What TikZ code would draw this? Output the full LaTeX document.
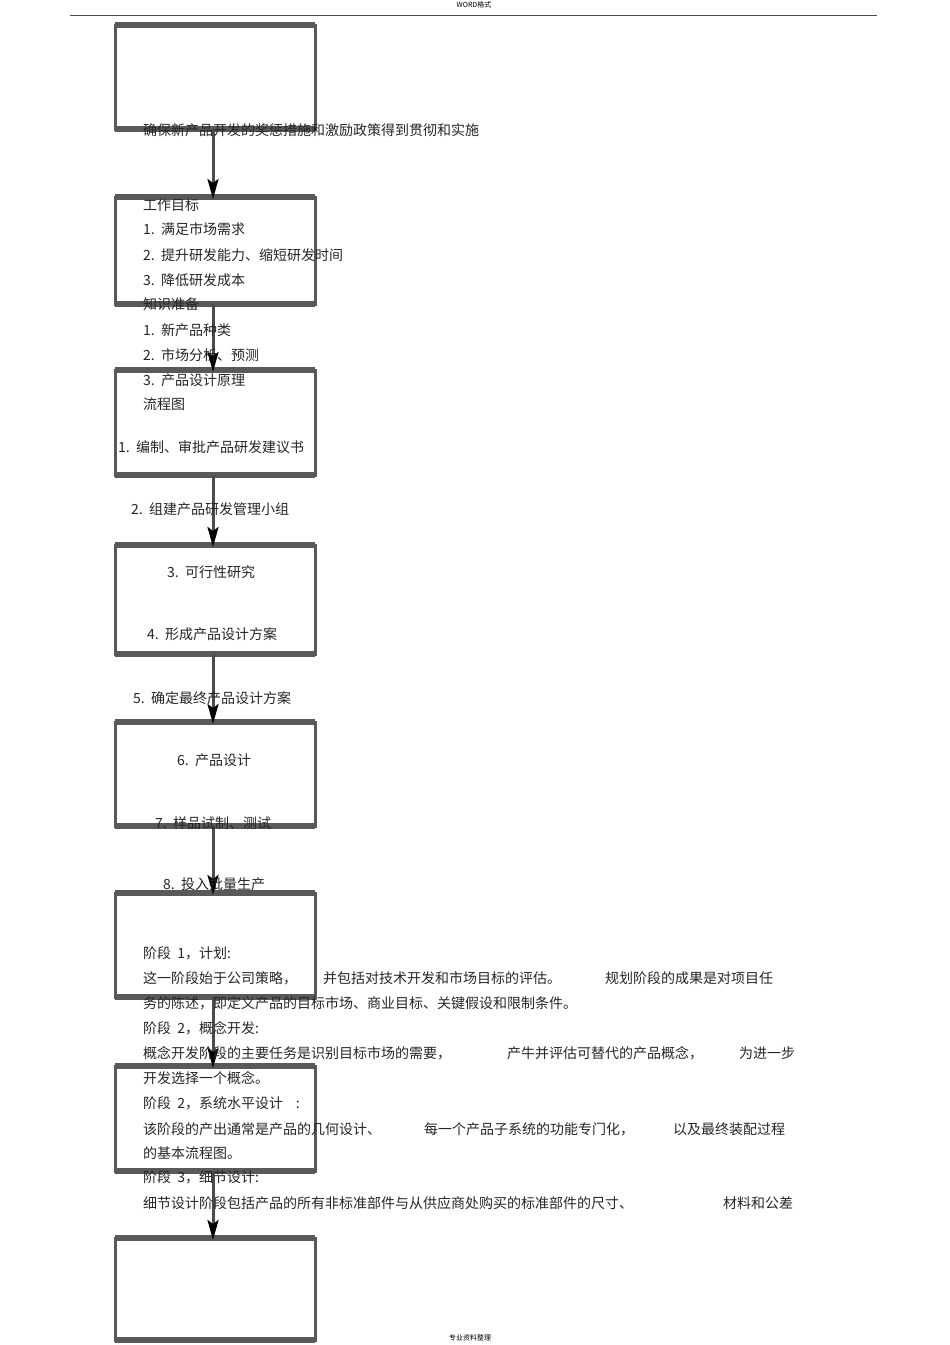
\documentclass[tikz,border=0pt]{standalone}
\usepackage{fontspec}
\setmainfont{Noto Sans CJK SC}
\usetikzlibrary{arrows.meta}
\begin{document}
\begin{tikzpicture}[x=1pt,y=-1pt,
  txt/.style={anchor=west,inner sep=0pt,font=\fontsize{14}{15}\selectfont,text=black!85},
  boxside/.style={draw=black!65,line width=3pt},
  boxedge/.style={draw=black!65,line width=6pt},
  flow/.style={draw=black!70,line width=3pt,-{Stealth[length=20pt,width=11pt,inset=4pt,color=black]}}]
\useasboundingbox (0,0) rectangle (950,1345);
\fill[white] (0,0) rectangle (950,1345);
\node[inner sep=0pt,font=\fontsize{7}{8}\selectfont] (hdr) at (474,5) {WORD格式};
\draw[black!70,line width=0.8pt] (70,15) -- (877,15);
\node[inner sep=0pt,font=\fontsize{7}{8}\selectfont] (ftr) at (470,1338) {专业资料整理};
% boxes
\foreach \n/\t/\b in {1/25/129,2/197/304,3/370/475,4/545/654,5/722/826,6/893/997,7/1066/1171,8/1238/1340}{
  \draw[boxside] (115,\t) rectangle (315,\b);
  \draw[boxedge] (115,\t) -- (315,\t);
  \draw[boxedge] (115,\b) -- (315,\b);
  \coordinate (t\n) at (213,\t);
  \coordinate (b\n) at (213,\b);
}
\foreach \a/\c in {1/2,2/3,3/4,4/5,5/6,6/7,7/8}{\draw[flow] (b\a) -- ([yshift=-2pt]t\c);}
% texts
\node[txt] (l1) at (143,130) {确保新产品开发的奖惩措施和激励政策得到贯彻和实施};
\node[txt] (l2) at (143,205) {工作目标};
\node[txt] (l3) at (143,229) {1.\ \ 满足市场需求};
\node[txt] (l4) at (143,255) {2.\ \ 提升研发能力、缩短研发时间};
\node[txt] (l5) at (143,280) {3.\ \ 降低研发成本};
\node[txt] (l6) at (143,304) {知识准备};
\node[txt] (l7) at (143,330) {1.\ \ 新产品种类};
\node[txt] (l8) at (143,355) {2.\ \ 市场分析、预测};
\node[txt] (l9) at (143,380) {3.\ \ 产品设计原理};
\node[txt] (l10) at (143,404) {流程图};
\node[txt] (s1) at (118,447) {1.\ \ 编制、审批产品研发建议书};
\node[txt] (s2) at (131,509) {2.\ \ 组建产品研发管理小组};
\node[txt] (s3) at (167,572) {3.\ \ 可行性研究};
\node[txt] (s4) at (147,634) {4.\ \ 形成产品设计方案};
\node[txt] (s5) at (133,698) {5.\ \ 确定最终产品设计方案};
\node[txt] (s6) at (177,760) {6.\ \ 产品设计};
\node[txt] (s7) at (155,823) {7.\ \ 样品试制、测试};
\node[txt] (s8) at (163,884) {8.\ \ 投入批量生产};
\node[txt] (p1) at (143,953) {阶段 \ 1，计划:};
\node[txt] (p2a) at (143,978) {这一阶段始于公司策略，};
\node[txt] (p2b) at (323,978) {并包括对技术开发和市场目标的评估。};
\node[txt] (p2c) at (605,978) {规划阶段的成果是对项目任};
\node[txt] (p3) at (143,1003) {务的陈述，即定义产品的目标市场、商业目标、关键假设和限制条件。};
\node[txt] (p4) at (143,1028) {阶段 \ 2，概念开发:};
\node[txt] (p5a) at (143,1053) {概念开发阶段的主要任务是识别目标市场的需要，};
\node[txt] (p5b) at (507,1053) {产牛并评估可替代的产品概念，};
\node[txt] (p5c) at (739,1053) {为进一步};
\node[txt] (p6) at (143,1078) {开发选择一个概念。};
\node[txt] (p7) at (143,1103) {阶段 \ 2，系统水平设计\ \ \ \ :};
\node[txt] (p8a) at (143,1129) {该阶段的产出通常是产品的几何设计、};
\node[txt] (p8b) at (424,1129) {每一个产品子系统的功能专门化，};
\node[txt] (p8c) at (673,1129) {以及最终装配过程};
\node[txt] (p9) at (143,1153) {的基本流程图。};
\node[txt] (p10) at (143,1177) {阶段 \ 3，细节设计:};
\node[txt] (p11a) at (143,1203) {细节设计阶段包括产品的所有非标准部件与从供应商处购买的标准部件的尺寸、};
\node[txt] (p11b) at (723,1203) {材料和公差};
\end{tikzpicture}
\end{document}
